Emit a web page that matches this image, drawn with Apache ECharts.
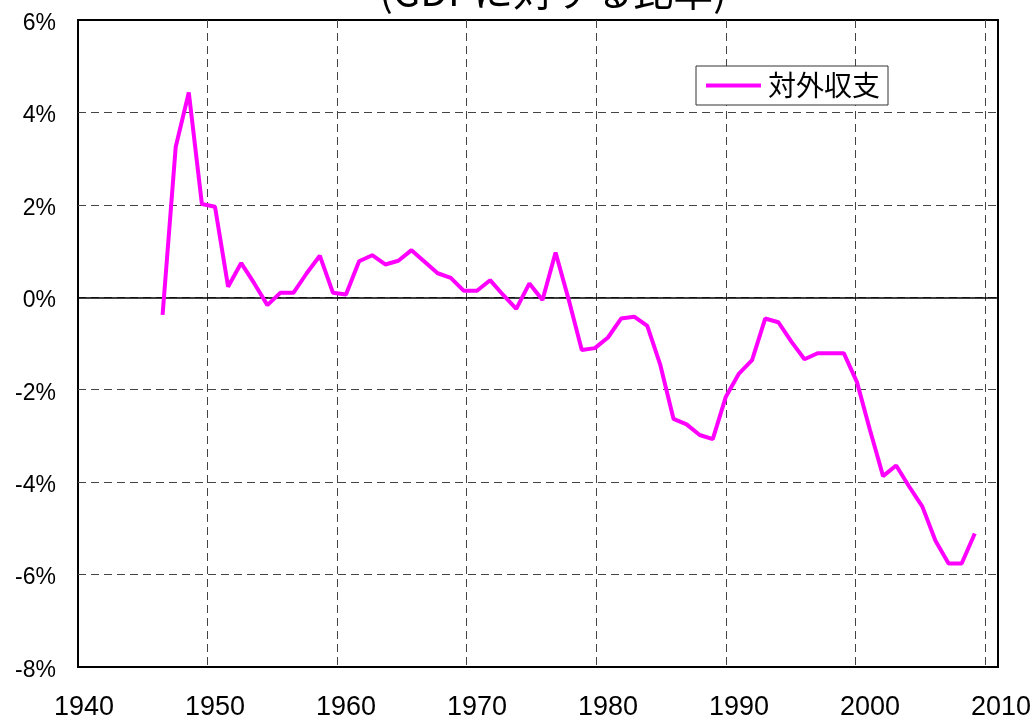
<!DOCTYPE html>
<html>
<head>
<meta charset="utf-8">
<script src="https://cdn.jsdelivr.net/npm/echarts@6/dist/echarts.min.js"></script>
<style>
  html, body { margin: 0; padding: 0; background: #fff; }
  #chart { width: 1034px; height: 722px; }
</style>
</head>
<body>
<div id="chart"></div>
<script>
// 対外収支 (GDP比, %)
const years = [
  1946, 1947, 1948, 1949, 1950, 1951, 1952, 1953, 1954, 1955,
  1956, 1957, 1958, 1959, 1960, 1961, 1962, 1963, 1964, 1965,
  1966, 1967, 1968, 1969, 1970, 1971, 1972, 1973, 1974, 1975,
  1976, 1977, 1978, 1979, 1980, 1981, 1982, 1983, 1984, 1985,
  1986, 1987, 1988, 1989, 1990, 1991, 1992, 1993, 1994, 1995,
  1996, 1997, 1998, 1999, 2000, 2001, 2002, 2003, 2004, 2005,
  2006, 2007, 2008
]
const balance = [
  -0.38, 3.25, 4.43, 2.02, 1.96, 0.23, 0.74, 0.30, -0.17, 0.10,
  0.10, 0.52, 0.90, 0.10, 0.06, 0.78, 0.91, 0.71, 0.79, 1.02,
  0.77, 0.52, 0.42, 0.14, 0.14, 0.37, 0.05, -0.25, 0.30, -0.06,
  0.97, -0.05, -1.14, -1.10, -0.87, -0.46, -0.42, -0.62, -1.47, -2.63,
  -2.75, -2.98, -3.07, -2.15, -1.65, -1.36, -0.46, -0.54, -0.96, -1.34,
  -1.21, -1.21, -1.21, -1.83, -2.87, -3.87, -3.64, -4.10, -4.53, -5.27,
  -5.76, -5.76, -5.11
]
const seriesName = '対外収支'
const titleText = '(GDPに対する比率)'

const chart = echarts.init(document.getElementById('chart'))

const dash = { color: '#444', width: 1, type: [8, 5] }
const yRange = { min: -8, max: 6, interval: 2 }
const latin = "'Liberation Sans', Arial, sans-serif"

chart.setOption({
  animation: false,
  title: {
    text: titleText, left: 548, top: -34, textAlign: 'center',
    textStyle: { fontFamily: 'Noto Sans CJK JP', fontSize: 40, fontWeight: 'normal', color: '#000' },
  },
  legend: {
    data: [seriesName], left: 696, top: 66, orient: 'horizontal',
    icon: 'rect', itemWidth: 55, itemHeight: 4,
    padding: [5, 8, 5, 10],
    borderColor: '#333', borderWidth: 1, backgroundColor: '#fff',
    textStyle: { fontFamily: 'Noto Sans CJK JP', fontSize: 28, color: '#000', lineHeight: 29, padding: [0, 0, 0, 2] },
  },
  grid: [
    // frame + gridlines
    { left: 78, right: 36, top: 20, bottom: 55, show: true, borderColor: '#000', borderWidth: 2, backgroundColor: 'transparent' },
    // year scale the line is drawn on
    { left: 84, right: 31.6, top: 20, bottom: 55 },
  ],
  xAxis: [
    {
      gridIndex: 0, type: 'value', min: 1940, max: 2011, interval: 10,
      axisLine: { show: true, onZero: true, lineStyle: { color: '#000', width: 1.5 } },
      axisTick: { show: false }, axisLabel: { show: false },
      splitLine: { show: true, showMinLine: false, showMaxLine: false, lineStyle: dash },
    },
    {
      gridIndex: 1, type: 'value', min: 1940, max: 2010, interval: 10,
      axisLine: { show: false }, axisTick: { show: false }, splitLine: { show: false },
      axisLabel: {
        margin: 27, color: '#000', fontSize: 27, fontFamily: latin,
        showMinLabel: true, showMaxLabel: true,
        formatter: v => String(v),
      },
    },
  ],
  yAxis: [
    {
      gridIndex: 0, type: 'value', ...yRange,
      axisLine: { show: false }, axisTick: { show: false },
      axisLabel: {
        margin: 22, color: '#000',
        formatter: v => '{v|' + v + '%}',
        rich: { v: { fontSize: 23, fontFamily: latin, color: '#000', padding: [7, 0, 0, 0] } },
      },
      splitLine: { show: true, showMinLine: false, showMaxLine: false, lineStyle: dash },
    },
    {
      gridIndex: 1, type: 'value', ...yRange, show: false,
    },
  ],
  series: [{
    name: seriesName, type: 'line', xAxisIndex: 1, yAxisIndex: 1,
    showSymbol: false, symbol: 'none', z: 5,
    itemStyle: { color: '#ff00ff' },
    lineStyle: { color: '#ff00ff', width: 4 },
    data: years.map((y, i) => [y, balance[i]]),
  }],
})
</script>
</body>
</html>
